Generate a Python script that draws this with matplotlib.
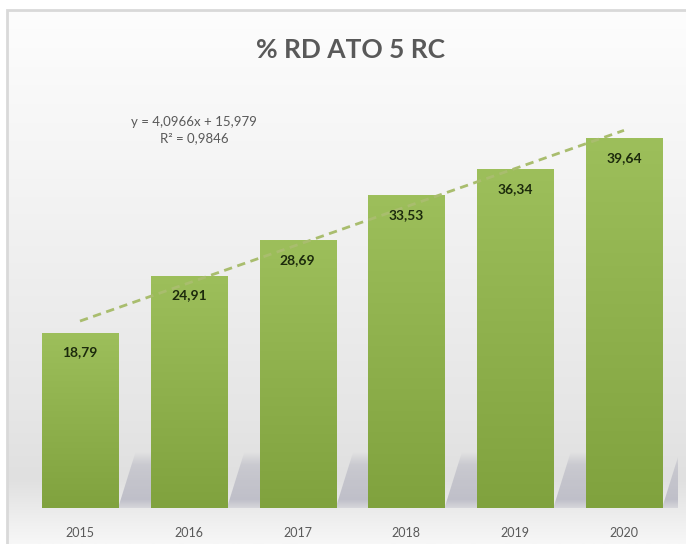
import matplotlib
matplotlib.use("Agg")
import matplotlib.pyplot as plt
import numpy as np
from matplotlib.colors import LinearSegmentedColormap
from matplotlib.patches import Polygon, Rectangle

# === Data ===
years = ["2015", "2016", "2017", "2018", "2019", "2020"]
values = [18.79, 24.91, 28.69, 33.53, 36.34, 39.64]
value_labels = ["18,79", "24,91", "28,69", "33,53", "36,34", "39,64"]
trend_slope = 4.0966
trend_intercept = 15.979
trend_text = "y = 4,0966x + 15,979\nR² = 0,9846"
title = "% RD ATO 5 RC"

W, H = 686, 544
fig = plt.figure(figsize=(W / 100, H / 100), dpi=100)
fig.patch.set_facecolor("white")

# === Background panel with soft gradient ===
bg = fig.add_axes([7 / W, 0, 1 - 7 / W, (H - 10) / H], zorder=0)
bg_cmap = LinearSegmentedColormap.from_list(
    "bg", [(0.0, "#fdfdfd"), (0.35, "#f3f3f3"), (0.75, "#e6e6e6"),
           (0.88, "#e0e0e0"), (1.0, "#f7f7f7")])
bg.imshow(np.linspace(0, 1, 256).reshape(-1, 1), aspect="auto", cmap=bg_cmap,
          extent=[0, 1, 0, 1], origin="upper")
bg.set_xlim(0, 1)
bg.set_ylim(0, 1)
bg.axis("off")
fig.patches.append(Rectangle((7 / W, -0.01), 1.1, (H - 10) / H + 0.01,
                             transform=fig.transFigure, fill=False,
                             edgecolor="#d9d9d9", linewidth=2, zorder=1))

# === Main axes ===
ax = fig.add_axes([25.6 / W, 36 / H, 652.8 / W, 419 / H], zorder=2)
ax.patch.set_alpha(0)
x = np.arange(len(years))
bars = ax.bar(x, values, width=0.70, color="none", zorder=3)
ax.set_xlim(-0.5, len(years) - 0.5)
ax.set_ylim(0, 45)

bar_cmap = LinearSegmentedColormap.from_list("bar", ["#80a23e", "#9dbf5b"])
grad = np.linspace(0, 1, 256).reshape(-1, 1)

# shadow image: bluish grey, soft at top
shadow_img = np.zeros((128, 1, 4))
shadow_img[..., :3] = np.array([0.70, 0.70, 0.75])
shadow_img[:, 0, 3] = np.concatenate([np.linspace(0.35, 0.75, 20),
                                      np.linspace(0.75, 0.5, 78),
                                      np.linspace(0.5, 0.0, 30)])

for b in bars:
    x0, w, h = b.get_x(), b.get_width(), b.get_height()
    xr = x0 + w
    # cast shadow to the right of each bar
    poly = Polygon([(xr, 0), (xr + 0.16, 6.0), (xr + 0.9, 6.0), (xr + 0.9, 0)],
                   closed=True, facecolor="none", edgecolor="none",
                   transform=ax.transData)
    ax.add_patch(poly)
    im = ax.imshow(shadow_img, aspect="auto", origin="lower",
                   extent=[xr, xr + 0.9, 0, 6.0], zorder=2)
    im.set_clip_path(poly)
    ax.imshow(grad, aspect="auto", cmap=bar_cmap, origin="lower",
              extent=[x0, xr, 0, h], zorder=3)

for xi, v, lab in zip(x, values, value_labels):
    ax.annotate(lab, (xi, v), xytext=(0, -14), textcoords="offset points",
                ha="center", va="center", fontsize=10, fontweight="bold",
                color="#1c2a0c", family="Lato", zorder=5)

# trendline
tx = np.array([x[0], x[-1]])
ty = trend_slope * (tx + 1) + trend_intercept
ax.plot(tx, ty, linestyle=(0, (3, 2)), color="#a9bd6e", linewidth=2, zorder=4)

ax.text(1.05, 40.6, trend_text, ha="center", va="center", fontsize=9.5,
        color="#595959", family="Lato", linespacing=1.45)

ax.set_xticks(x)
ax.set_xticklabels(years, fontsize=9, color="#595959", family="Lato")
ax.tick_params(axis="x", length=0, pad=14)
ax.set_yticks([])
ax.set_xlim(-0.5, len(years) - 0.5)
ax.set_ylim(0, 45)
for s in ax.spines.values():
    s.set_visible(False)

fig.text(350 / W, 1 - 50 / H, title, ha="center", va="center", fontsize=19,
         fontweight="bold", color="#595959", family="Lato")

fig.savefig("out.png", dpi=100)
